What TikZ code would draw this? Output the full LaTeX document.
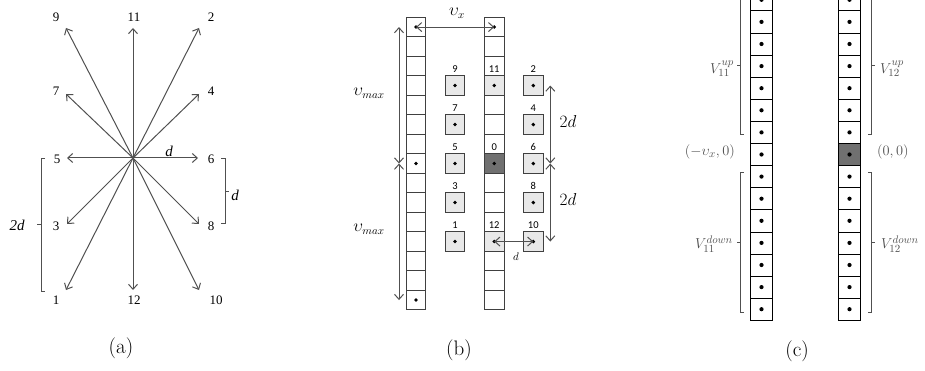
\documentclass[tikz,border=0pt]{standalone}
\usepackage{fontspec}
\usepackage{tikz}
\usetikzlibrary{arrows.meta}
\newfontfamily\tnr{Liberation Serif}
\newfontfamily\clb{Carlito}
\definecolor{lnc}{HTML}{505050}
\definecolor{curc}{HTML}{707070}
\definecolor{movc}{HTML}{E8E8E8}
\definecolor{labc}{HTML}{505050}
\tikzstyle{vec}=[-{Straight Barb[length=5pt,width=9pt]},draw=lnc,line width=1pt]
\tikzstyle{dvec}=[{Straight Barb[length=5pt,width=9pt]}-{Straight Barb[length=5pt,width=9pt]},draw=lnc,line width=1pt]
\tikzstyle{num}=[font=\tnr\fontsize{13}{15}\selectfont,inner sep=0pt]
\tikzstyle{numit}=[font=\tnr\itshape\fontsize{15}{18}\selectfont,inner sep=0pt]
\tikzstyle{numb}=[font=\clb\fontsize{10.5}{12}\selectfont,inner sep=0pt,label distance=3pt]
\tikzstyle{mth}=[font=\fontsize{16}{19}\selectfont,inner sep=0pt]
\tikzstyle{lab}=[font=\fontsize{15}{18}\selectfont,text=labc,inner sep=0pt]
\tikzstyle{capt}=[font=\fontsize{21}{25}\selectfont,inner sep=0pt]
\tikzstyle{cellb}=[draw=black!75,line width=0.8pt,minimum size=19.5pt,inner sep=0pt]
\tikzstyle{movb}=[cellb,fill=movc]
\tikzstyle{curb}=[cellb,fill=curc]
\tikzstyle{cellc}=[draw=black,line width=0.7pt,minimum width=21.7pt,minimum height=22.1pt,inner sep=0pt]
\tikzstyle{brk}=[draw=lnc,line width=1pt]

\begin{document}
\begin{tikzpicture}[x=1pt,y=-1pt]
\useasboundingbox (0,0) rectangle (925,371);
% (a) moves from the centre
\coordinate (O) at (133,158);
\foreach \n/\x/\y/\lx/\ly in {9/66/28/56/17, 11/133/28/134/17, 2/199/28/211/17, 7/66/94/56/91, 4/199/94/211/91, 5/67/158/57/159, 6/198/158/211/159, 3/67/224/56/226, 8/199/224/211/226, 1/66/290/56/300, 12/133/290/134/300, 10/199/290/216/300}
  {\coordinate (a\n) at (\x,\y); \node[num] (n\n) at (\lx,\ly) {\n}; \draw[vec] (O) -- (a\n);}
\node[numit] (dh) at (169,151) {d};
\draw[brk] (45,159) -- (41,159) -- (41,291) -- (45,291); \draw[brk] (41,225) -- (37,225);
\node[numit] (twod) at (17,225) {2d};
\draw[brk] (221,159) -- (225,159) -- (225,224) -- (221,224); \draw[brk] (225,192) -- (229,192);
\node[numit] (dv) at (235,195) {d};
\node[capt] (ca) at (121,348) {(a)};
% (b) grid of cells
\foreach \i in {0,...,14}
  {\node[cellb] (L\i) at (416,{27.05+19.5*\i}) {}; \node[cellb] (C\i) at (494.2,{27.05+19.5*\i}) {};}
\node[movb,label={[numb]above:11}] (C3) at (494.2,85.55) {};
\node[curb,label={[numb]above:0}] (C7) at (494.2,163.55) {};
\node[movb,label={[numb]above:12}] (C11) at (494.2,241.55) {};
\foreach \n/\x/\r in {9/455/3, 7/455/5, 5/455/7, 3/455/9, 1/455/11, 2/533.3/3, 4/533.3/5, 6/533.3/7, 8/533.3/9, 10/533.3/11}
  \node[movb,label={[numb]above:\n}] (M\n) at (\x,{27.05+19.5*\r}) {};
\foreach \c in {L0,L7,L14,C0,C3,C7,C11,M1,M2,M3,M4,M5,M6,M7,M8,M9,M10}
  \fill (\c) circle (1.9pt);
\draw[dvec] (L0.center) -- (C0.center);
\node[mth] (vx) at (457,13) {$\upsilon_x$};
\draw[dvec] ([xshift=-17pt]L0.center) -- ([xshift=-17pt]L7.center);
\draw[dvec] ([xshift=-17pt]L7.center) -- ([xshift=-17pt]L14.center);
\node[mth] (vmu) at (369,93) {$\upsilon_{max}$};
\node[mth] (vmd) at (369,229) {$\upsilon_{max}$};
\draw[dvec] ([xshift=17pt]M2.center) -- ([xshift=17pt]M6.center);
\draw[dvec] ([xshift=17pt]M6.center) -- ([xshift=17pt]M10.center);
\node[mth] (tdu) at (568,122) {$2d$};
\node[mth] (tdd) at (568,200) {$2d$};
\draw[dvec] (C11.center) -- (M10.center);
\node[font=\fontsize{11}{13}\selectfont,inner sep=0pt] (db) at (516,257) {$d$};
\node[capt] (cb) at (459,350) {(b)};
% (c) two columns
\begin{scope}
\clip (600,0) rectangle (925,371);
\foreach \k in {-7,...,7}
  {\node[cellc] (P\k) at (761.5,{154.5+22.1*\k}) {}; \node[cellc] (Q\k) at (849.5,{154.5+22.1*\k}) {};
   \fill (P\k) circle (2.1pt); \fill (Q\k) circle (2.1pt);}
\node[cellc,fill=curc] (Q0) at (849.5,154.5) {}; \fill (Q0) circle (2.1pt);
\draw[brk] (743.5,-4) -- (740,-4) -- (740,135) -- (743.5,135); \draw[brk] (740,65.5) -- (736.5,65.5);
\draw[brk] (743.5,172.7) -- (740,172.7) -- (740,312.7) -- (743.5,312.7); \draw[brk] (740,242.7) -- (736.5,242.7);
\draw[brk] (868,-4) -- (871.7,-4) -- (871.7,135) -- (868,135); \draw[brk] (871.7,65.5) -- (875.2,65.5);
\draw[brk] (868,172.7) -- (871.7,172.7) -- (871.7,312.7) -- (868,312.7); \draw[brk] (871.7,242.7) -- (875.2,242.7);
\node[lab,anchor=east] (vlu) at (734,69) {$V_{11}^{up}$};
\node[lab,anchor=west] (vru) at (880,69) {$V_{12}^{up}$};
\node[lab,anchor=east] (vld) at (733,244) {$V_{11}^{down}$};
\node[lab,anchor=west] (vrd) at (881,244) {$V_{12}^{down}$};
\node[lab,anchor=east] (pl) at (735,152) {$(-\upsilon_x,0)$};
\node[lab,anchor=west] (pr) at (877,152) {$(0,0)$};
\end{scope}
\node[capt] (cc) at (797,351) {(c)};
\end{tikzpicture}
\end{document}
